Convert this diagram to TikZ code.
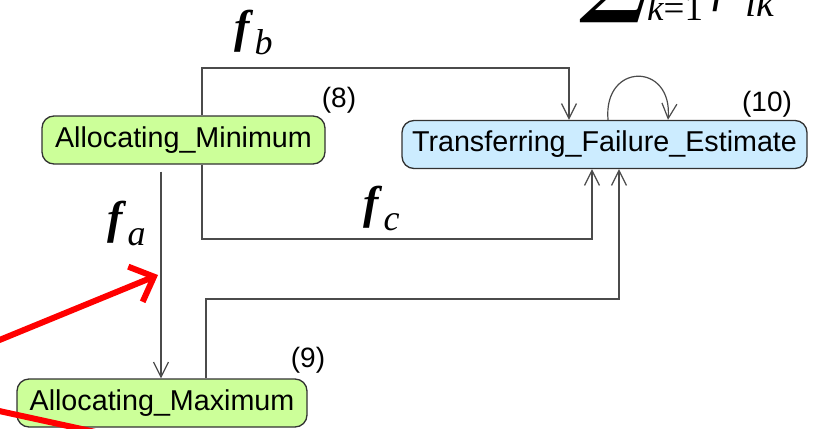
\documentclass[tikz,border=0pt]{standalone}
\usepackage{fontspec}
\setmainfont{Liberation Serif}
\newfontfamily\arialface{Liberation Sans}
\newfontfamily\symface{DejaVu Serif}
\usetikzlibrary{arrows.meta}

\definecolor{stategreen}{RGB}{204,255,153}
\definecolor{stateblue}{RGB}{204,236,255}
\definecolor{boxline}{RGB}{50,50,50}
\definecolor{edgegray}{RGB}{75,75,75}
\definecolor{hlred}{RGB}{255,0,0}

% bold italic f with an italic index, as used for the flow labels
\newcommand\flowlab[1]{{\fontsize{46}{46}\selectfont\bfseries\itshape f}\hspace{5pt}\raisebox{-12pt}{\fontsize{36}{36}\selectfont\itshape #1}}

\begin{document}
\begin{tikzpicture}[x=1pt,y=-1pt,
  state/.style={draw=boxline, line width=1.3pt, rounded corners=12pt,
    minimum height=48pt, inner sep=0pt, font=\arialface\fontsize{28.7}{30}\selectfont},
  conn/.style={draw=edgegray, line width=1.2pt,
    -{Straight Barb[length=15pt,width=15pt]}},
  tag/.style={inner sep=0pt, font=\arialface\fontsize{28}{30}\selectfont},
  mlab/.style={anchor=base west, inner sep=0pt},
  hl/.style={draw=hlred, line width=6pt},
  hlarrow/.style={hl, -{Straight Barb[length=20pt,width=38pt]}}]

\useasboundingbox (0,0) rectangle (818,428);
\clip (0,0) rectangle (818,428);

% states
\node[state, fill=stategreen, minimum width=283pt] (amin) at (183.5,140) {Allocating\_Minimum};
\node[state, fill=stategreen, minimum width=290pt] (amax) at (162,403) {Allocating\_Maximum};
\node[state, fill=stateblue, minimum width=405pt] (tfe) at (604.5,144.5) {Transferring\_Failure\_Estimate};

% state numbers
\node[tag] (n8) at (339,100) {(8)};
\node[tag] (n10) at (767,104) {(10)};
\node[tag] (n9) at (308,360) {(9)};

% routing points of the connectors
\coordinate (bx) at (202,68);
\coordinate (bxr) at (569,68);
\coordinate (cx) at (592,239);
\coordinate (dl) at (206,299);
\coordinate (dr) at (619,299);
\coordinate (ax) at (161,0);
\coordinate (l1) at (608,0);
\coordinate (l2) at (668,0);

% transitions
\draw[conn] (amin.north -| bx) |- (bxr) -- (tfe.north -| bxr);
\draw[conn] (amin.south -| bx) |- (cx) -- (tfe.south -| cx);
\draw[conn] (amax.north -| dl) |- (dr) -- (tfe.south -| dr);
\draw[conn, shorten <=7pt] (amin.south -| ax) -- (amax.north -| ax);
\draw[conn] (tfe.north -| l1) .. controls (603,62) and (673,62) .. (tfe.north -| l2);

% flow labels
\node[mlab] (fa) at (107,233) {\flowlab{a}};
\node[mlab] (fb) at (234,43) {\flowlab{b}};
\node[mlab] (fc) at (363,218) {\flowlab{c}};

% sum formula, mostly above the top edge
\node[mlab] (sumsign) at (579,6) {\symface\bfseries\fontsize{90}{90}\selectfont ∑};
\node[mlab] (sumlow) at (647,21) {\fontsize{37}{37}\selectfont\itshape k\upshape =1};
\node[mlab] (sumf) at (712,2) {\fontsize{48}{48}\selectfont\itshape f};
\node[mlab] (sumidx) at (745,17) {\fontsize{40}{40}\selectfont\itshape ik};

% red highlight strokes
\coordinate (r1s) at (-20,348);
\coordinate (r1e) at (158,275);
\coordinate (r2s) at (-10,409);
\coordinate (r2e) at (100,433);
\draw[hlarrow] (r1s) -- (r1e);
\draw[hl] (r2s) -- (r2e);
\end{tikzpicture}
\end{document}
